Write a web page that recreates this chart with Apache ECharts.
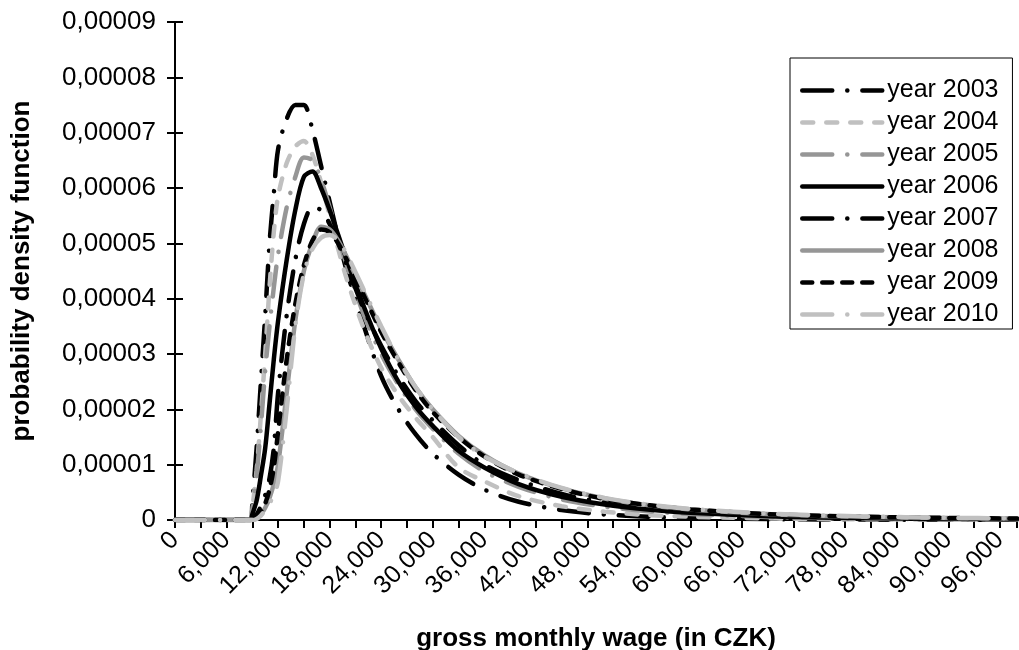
<!DOCTYPE html>
<html lang="en">
<head>
    <meta charset="UTF-8">
    <title>probability density of gross monthly wage</title>
    <script src="https://cdn.jsdelivr.net/npm/echarts@6/dist/echarts.min.js"></script>
    <style>
        html, body { margin: 0; padding: 0; background: #fff; }
    </style>
</head>
<body>
<div id="main" style="width: 1019px;height:650px;"></div>
<script type="text/javascript">
    // wage points (CZK) shared by all years
    var wage = [0, 8000, 8800, 9000, 9500, 10000, 10500, 11000, 11500, 12000,
        13000, 14000, 15000, 16000, 17000, 18000, 19000, 20000, 22000, 24000,
        26000, 28000, 30000, 33000, 36000, 40000, 45000, 50000, 55000, 60000,
        70000, 80000, 90000, 98000];

    // density values, in units of 0,00001
    var y2003 = [0, 0, 0, 0.3, 1.3, 2.5, 3.7, 5.0, 5.9, 6.7, 7.25, 7.5, 7.5, 7.05, 6.4, 5.75, 5.1, 4.5,
        3.5, 2.6, 2.0, 1.55, 1.2, 0.82, 0.55, 0.33, 0.18, 0.1, 0.06, 0.035, 0.015, 0.007, 0.004, 0.003];
    var y2004 = [0, 0, 0, 0.2, 0.9, 1.9, 3.0, 4.2, 5.2, 5.85, 6.45, 6.75, 6.85, 6.6, 6.1, 5.5, 4.9, 4.35,
        3.45, 2.75, 2.25, 1.85, 1.5, 0.95, 0.7, 0.43, 0.25, 0.15, 0.09, 0.06, 0.025, 0.012, 0.006, 0.004];
    var y2005 = [0, 0, 0, 0.2, 0.8, 1.7, 2.7, 3.5, 4.2, 4.8, 5.65, 6.2, 6.55, 6.5, 6.15, 5.65, 5.1, 4.6,
        3.7, 3.0, 2.45, 2.0, 1.65, 1.2, 0.88, 0.6, 0.37, 0.24, 0.16, 0.11, 0.05, 0.025, 0.013, 0.008];
    var y2006 = [0, 0, 0, 0.1, 0.35, 0.8, 1.3, 2.1, 2.9, 3.6, 4.7, 5.6, 6.2, 6.3, 6.0, 5.6, 5.15, 4.7,
        3.85, 3.1, 2.5, 2.05, 1.7, 1.25, 0.95, 0.65, 0.42, 0.28, 0.19, 0.13, 0.065, 0.035, 0.02, 0.012];
    var y2007 = [0, 0, 0, 0.02, 0.1, 0.25, 0.45, 0.75, 1.3, 2.3, 3.7, 4.7, 5.35, 5.65, 5.6, 5.35, 5.0, 4.6,
        3.8, 3.15, 2.6, 2.15, 1.8, 1.35, 1.0, 0.72, 0.47, 0.32, 0.22, 0.15, 0.08, 0.045, 0.028, 0.02];
    var y2008 = [0, 0, 0, 0, 0.03, 0.1, 0.22, 0.4, 0.65, 1.0, 2.3, 3.6, 4.5, 5.0, 5.3, 5.25, 5.05, 4.75,
        4.1, 3.45, 2.9, 2.4, 2.0, 1.52, 1.17, 0.84, 0.57, 0.39, 0.27, 0.19, 0.1, 0.058, 0.036, 0.025];
    var y2009 = [0, 0, 0, 0.01, 0.05, 0.15, 0.3, 0.55, 0.95, 1.6, 2.9, 3.9, 4.6, 5.05, 5.25, 5.2, 5.0, 4.7,
        4.05, 3.4, 2.85, 2.35, 1.95, 1.5, 1.15, 0.82, 0.56, 0.38, 0.27, 0.19, 0.1, 0.06, 0.037, 0.025];
    var y2010 = [0, 0, 0, 0, 0.02, 0.08, 0.18, 0.3, 0.45, 0.7, 2.0, 3.5, 4.45, 4.9, 5.1, 5.15, 5.05, 4.8,
        4.15, 3.5, 2.9, 2.4, 2.0, 1.5, 1.15, 0.85, 0.58, 0.4, 0.28, 0.2, 0.11, 0.065, 0.04, 0.028];

    var years = ['year 2003', 'year 2004', 'year 2005', 'year 2006',
        'year 2007', 'year 2008', 'year 2009', 'year 2010'];
    var values = [y2003, y2004, y2005, y2006, y2007, y2008, y2009, y2010];

    var longDashDot = [30, 15, 0.1, 15];
    var styles = [
        {color: '#000000', type: longDashDot},
        {color: '#c0c0c0', type: [11, 13]},
        {color: '#969696', type: longDashDot},
        {color: '#000000', type: 'solid'},
        {color: '#000000', type: longDashDot},
        {color: '#969696', type: 'solid'},
        {color: '#000000', type: [10, 10]},
        {color: '#c0c0c0', type: longDashDot}
    ];

    var font = 'Arial, "Liberation Sans", sans-serif';

    var series = years.map(function (name, i) {
        return {
            name: name,
            type: 'line',
            xAxisIndex: 0,
            yAxisIndex: 0,
            smooth: 0.3,
            symbol: 'none',
            lineStyle: {color: styles[i].color, type: styles[i].type, width: 4.5, cap: 'round'},
            itemStyle: {color: styles[i].color},
            data: wage.map(function (w, k) { return [w, values[i][k]]; })
        };
    });

    var myChart = echarts.init(document.getElementById('main'));

    var xBase = {
        type: 'value', min: 0, max: 98000, interval: 6000,
        splitLine: {show: false}
    };
    var yBase = {
        type: 'value', min: 0, max: 9, interval: 1,
        splitLine: {show: false}
    };

    var option = {
        animation: false,
        backgroundColor: '#ffffff',
        grid: {left: 175, right: 2, top: 22, bottom: 130, outerBoundsMode: 'none', containLabel: false},
        legend: {
            orient: 'vertical',
            left: 790,
            top: 58,
            padding: [20, 14, 2, 10],
            itemWidth: 80,
            itemHeight: 14,
            itemGap: 7,
            itemTextGap: 8,
            borderColor: '#000',
            borderWidth: 1,
            borderRadius: 0,
            itemStyle: {opacity: 0, borderWidth: 0},
            lineStyle: {width: 4.5, cap: 'round'},
            textStyle: {color: '#000', fontSize: 25, lineHeight: 24, fontFamily: font},
            data: years
        },
        xAxis: [
            Object.assign({}, xBase, {
                name: 'gross monthly wage (in CZK)',
                nameLocation: 'middle',
                nameGap: 106,
                nameTextStyle: {color: '#000', fontSize: 26, fontWeight: 'bold', fontFamily: font},
                axisLine: {lineStyle: {color: '#000', width: 2}},
                axisTick: {show: true, length: 8, lineStyle: {color: '#000', width: 2}},
                minorTick: {show: true, splitNumber: 2, length: 8, lineStyle: {color: '#000', width: 2}},
                axisLabel: {
                    rotate: 45, margin: 16, color: '#000', fontSize: 25, fontFamily: font,
                    formatter: function (v) { return String(v).replace(/\B(?=(\d{3})+(?!\d))/g, ','); }
                }
            }),
            Object.assign({}, xBase, {
                axisLine: {show: false},
                axisLabel: {show: false},
                axisTick: {show: true, inside: true, length: 8, lineStyle: {color: '#000', width: 2}},
                minorTick: {show: true, splitNumber: 2, length: 8, lineStyle: {color: '#000', width: 2}}
            })
        ],
        yAxis: [
            Object.assign({}, yBase, {
                name: 'probability density function',
                nameLocation: 'middle',
                nameGap: 140,
                nameTextStyle: {color: '#000', fontSize: 26, fontWeight: 'bold', fontFamily: font},
                axisLine: {show: true, lineStyle: {color: '#000', width: 2}},
                axisTick: {show: true, length: 8, lineStyle: {color: '#000', width: 2}},
                axisLabel: {
                    margin: 19, color: '#000', fontSize: 26, fontFamily: font,
                    formatter: function (v) {
                        var n = Math.round(v);
                        return n === 0 ? '0' : '0,0000' + n;
                    }
                }
            }),
            Object.assign({}, yBase, {
                position: 'left',
                axisLine: {show: false},
                axisLabel: {show: false},
                axisTick: {show: true, inside: true, length: 8, lineStyle: {color: '#000', width: 2}}
            })
        ],
        series: series
    };

    myChart.setOption(option);
</script>
</body>
</html>
